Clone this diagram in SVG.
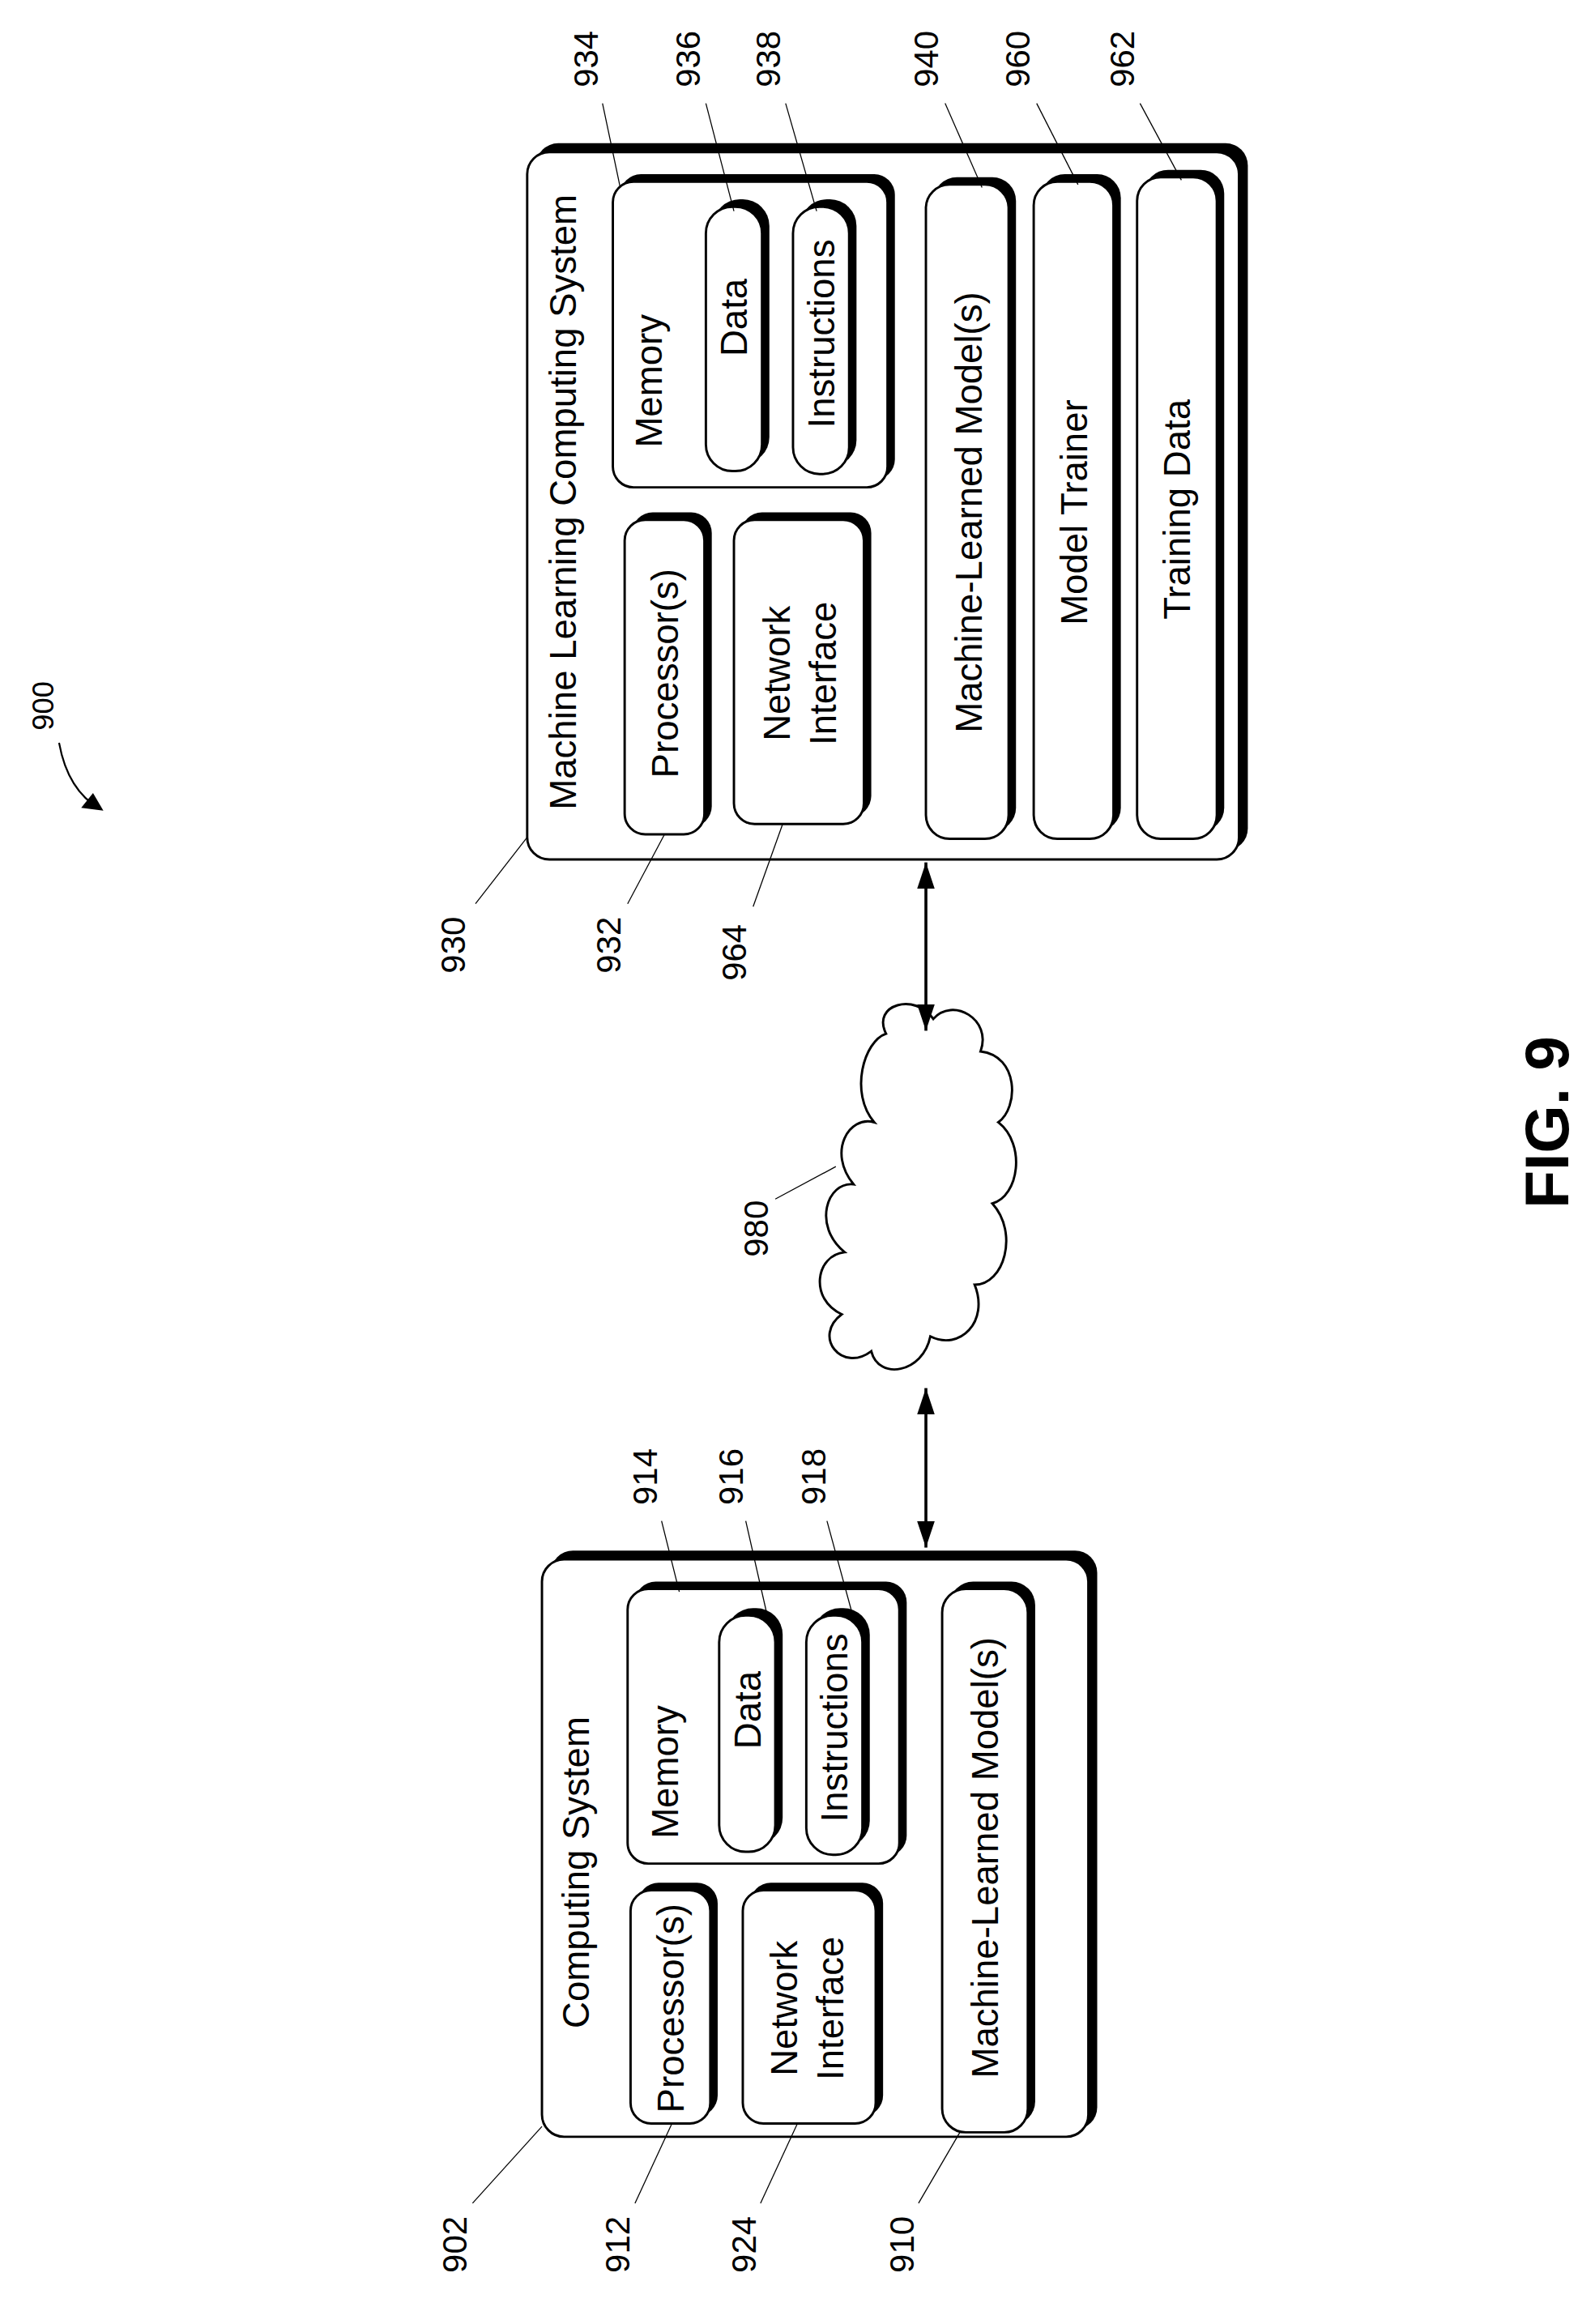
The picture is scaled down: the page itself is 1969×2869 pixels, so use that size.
<svg xmlns="http://www.w3.org/2000/svg" width="1969" height="2869" viewBox="0 0 1969 2869">
<defs>
<style>
.sh{fill:#000}
.bx{fill:#fff;stroke:#000;stroke-width:1.6}
.t{font-family:"Liberation Sans",Arial,sans-serif;font-size:25px;fill:#000;text-anchor:middle}
.n{font-family:"Liberation Sans",Arial,sans-serif;font-size:23px;fill:#000;text-anchor:middle}
.ld{stroke:#000;stroke-width:0.7;fill:none}
.cn{stroke:#000;stroke-width:2;fill:none}
</style>
<marker id="ah" viewBox="0 0 18 12" refX="18" refY="6" markerWidth="18" markerHeight="12" markerUnits="userSpaceOnUse" orient="auto-start-reverse"><path d="M0,0 L18,6 L0,12 z" fill="#000"/></marker>
</defs>
<rect width="1969" height="2869" fill="#fff"/>
<g transform="scale(1.823)">
<g id="ml-system">
<rect class="sh" x="363" y="97" width="482" height="479" rx="15"/>
<rect class="bx" x="357" y="103" width="482" height="479" rx="15"/>
<text class="t" transform="translate(390,340) rotate(-90)">Machine Learning Computing System</text>
</g>
<g id="ml-processor">
<rect class="sh" x="428" y="347" width="54" height="213" rx="14"/>
<rect class="bx" x="423" y="352" width="54" height="213" rx="14"/>
<text class="t" transform="translate(459,456) rotate(-90)">Processor(s)</text>
</g>
<g id="ml-network">
<rect class="sh" x="502" y="347" width="88" height="206" rx="14"/>
<rect class="bx" x="497" y="352" width="88" height="206" rx="14"/>
<text class="t" transform="translate(535,456) rotate(-90)">Network</text>
<text class="t" transform="translate(566,456) rotate(-90)">Interface</text>
</g>
<g id="ml-memory">
<rect class="sh" x="420" y="118" width="186" height="207" rx="14"/>
<rect class="bx" x="415" y="123" width="186" height="207" rx="14"/>
<text class="t" transform="translate(448,258) rotate(-90)">Memory</text>
</g>
<g id="ml-data">
<rect class="sh" x="483" y="135" width="38" height="179" rx="18"/>
<rect class="bx" x="478" y="140" width="38" height="179" rx="18"/>
<text class="t" transform="translate(506,215) rotate(-90)">Data</text>
</g>
<g id="ml-instructions">
<rect class="sh" x="542" y="135" width="38" height="181" rx="18"/>
<rect class="bx" x="537" y="140" width="38" height="181" rx="18"/>
<text class="t" transform="translate(565,226) rotate(-90)">Instructions</text>
</g>
<g id="ml-models">
<rect class="sh" x="632" y="120" width="56" height="443" rx="16"/>
<rect class="bx" x="627" y="125" width="56" height="443" rx="16"/>
<text class="t" transform="translate(665,347) rotate(-90)">Machine-Learned Model(s)</text>
</g>
<g id="model-trainer">
<rect class="sh" x="705" y="118" width="54" height="445" rx="16"/>
<rect class="bx" x="700" y="123" width="54" height="445" rx="16"/>
<text class="t" transform="translate(736,347) rotate(-90)">Model Trainer</text>
</g>
<g id="training-data">
<rect class="sh" x="775" y="115" width="54" height="448" rx="16"/>
<rect class="bx" x="770" y="120" width="54" height="448" rx="16"/>
<text class="t" transform="translate(806,345) rotate(-90)">Training Data</text>
</g>

<g id="computing-system">
<rect class="sh" x="373" y="1050" width="370" height="392" rx="15"/>
<rect class="bx" x="367" y="1056" width="370" height="391" rx="15"/>
<text class="t" transform="translate(399,1268) rotate(-90)">Computing System</text>
</g>
<g id="cs-processor">
<rect class="sh" x="432" y="1275" width="54" height="158" rx="14"/>
<rect class="bx" x="427" y="1280" width="54" height="158" rx="14"/>
<text class="t" transform="translate(463,1360) rotate(-90)">Processor(s)</text>
</g>
<g id="cs-network">
<rect class="sh" x="508" y="1275" width="90" height="158" rx="14"/>
<rect class="bx" x="503" y="1280" width="90" height="158" rx="14"/>
<text class="t" transform="translate(540,1360) rotate(-90)">Network</text>
<text class="t" transform="translate(571,1360) rotate(-90)">Interface</text>
</g>
<g id="cs-memory">
<rect class="sh" x="430" y="1071" width="184" height="186" rx="14"/>
<rect class="bx" x="425" y="1076" width="184" height="186" rx="14"/>
<text class="t" transform="translate(459,1200) rotate(-90)">Memory</text>
</g>
<g id="cs-data">
<rect class="sh" x="492" y="1089" width="38" height="160" rx="18"/>
<rect class="bx" x="487" y="1094" width="38" height="160" rx="18"/>
<text class="t" transform="translate(515,1158) rotate(-90)">Data</text>
</g>
<g id="cs-instructions">
<rect class="sh" x="551" y="1089" width="38" height="162" rx="18"/>
<rect class="bx" x="546" y="1094" width="38" height="162" rx="18"/>
<text class="t" transform="translate(574,1170) rotate(-90)">Instructions</text>
</g>
<g id="cs-models">
<rect class="sh" x="643" y="1071" width="58" height="368" rx="16"/>
<rect class="bx" x="638" y="1076" width="58" height="368" rx="16"/>
<text class="t" transform="translate(676,1258) rotate(-90)">Machine-Learned Model(s)</text>
</g>

<g id="network-980">
<path class="bx" d="M600,700 C590,680 620,672 632,690 C645,675 672,690 664,712 C690,715 690,750 676,760 C695,775 690,810 672,815 C690,835 680,870 660,870 C670,895 650,915 630,905 C625,930 595,935 590,915 C570,930 550,905 570,890 C548,880 552,850 572,848 C550,830 560,800 578,802 C560,780 575,755 592,760 C575,740 585,705 600,700 Z"/>
</g>

<g id="connectors">
<line class="cn" x1="627" y1="584" x2="627" y2="698" marker-start="url(#ah)" marker-end="url(#ah)"/>
<line class="cn" x1="627" y1="940" x2="627" y2="1048" marker-start="url(#ah)" marker-end="url(#ah)"/>
<path class="ld" d="M322,612 L357,567"/>
<path class="ld" d="M425,612 L450,565"/>
<path class="ld" d="M510,614 L530,558"/>
<path class="ld" d="M408,70 L420,127"/>
<path class="ld" d="M478,70 L497,143"/>
<path class="ld" d="M532,70 L553,143"/>
<path class="ld" d="M640,70 L665,127"/>
<path class="ld" d="M702,70 L730,125"/>
<path class="ld" d="M772,70 L800,122"/>
<path class="ld" d="M525,812 L566,790"/>
<path class="ld" d="M320,1492 L367,1440"/>
<path class="ld" d="M430,1492 L455,1438"/>
<path class="ld" d="M515,1492 L540,1438"/>
<path class="ld" d="M622,1492 L650,1444"/>
<path class="ld" d="M448,1030 L460,1078"/>
<path class="ld" d="M505,1030 L520,1096"/>
<path class="ld" d="M560,1030 L578,1096"/>
<path class="ld" d="M40,503 C44,525 54,540 68,548" style="stroke-width:1.2"/>
<path d="M70,549 L55,547 L63,537 z" fill="#000"/>
</g>

<g id="labels">
<text class="n" transform="translate(315,640) rotate(-90)">930</text>
<text class="n" transform="translate(420,640) rotate(-90)">932</text>
<text class="n" transform="translate(505,645) rotate(-90)">964</text>
<text class="n" transform="translate(405,40) rotate(-90)">934</text>
<text class="n" transform="translate(474,40) rotate(-90)">936</text>
<text class="n" transform="translate(528,40) rotate(-90)">938</text>
<text class="n" transform="translate(635,40) rotate(-90)">940</text>
<text class="n" transform="translate(697,40) rotate(-90)">960</text>
<text class="n" transform="translate(768,40) rotate(-90)">962</text>
<text class="n" transform="translate(520,832) rotate(-90)">980</text>
<text class="n" transform="translate(316,1520) rotate(-90)">902</text>
<text class="n" transform="translate(426,1520) rotate(-90)">912</text>
<text class="n" transform="translate(512,1520) rotate(-90)">924</text>
<text class="n" transform="translate(619,1520) rotate(-90)">910</text>
<text class="n" transform="translate(445,1000) rotate(-90)">914</text>
<text class="n" transform="translate(503,1000) rotate(-90)">916</text>
<text class="n" transform="translate(559,1000) rotate(-90)">918</text>
<text class="n" transform="translate(36,478) rotate(-90)" style="font-size:20px">900</text>
<text transform="translate(1062,760) rotate(-90)" style="font-family:'Liberation Sans',Arial,sans-serif;font-weight:bold;font-size:42px;text-anchor:middle">FIG. 9</text>
</g>
</g>
</svg>
